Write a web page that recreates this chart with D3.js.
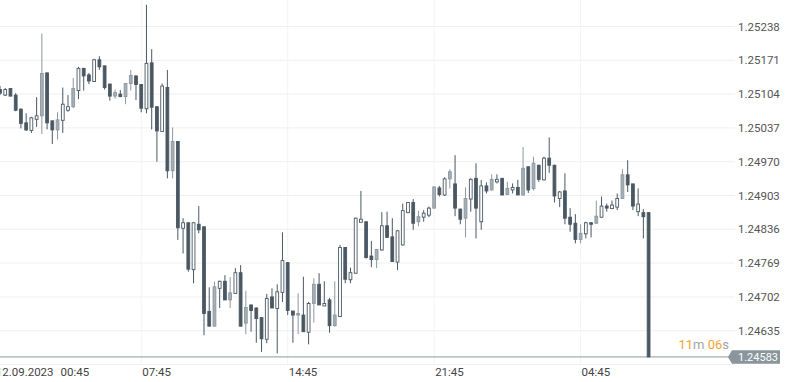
<!DOCTYPE html>
<html>
<head>
<meta charset="utf-8">
<script src="https://cdn.jsdelivr.net/npm/d3@7"></script>
<style>
  html, body { margin: 0; padding: 0; background: #fff; }
  svg { display: block; font-family: Roboto, "Open Sans", sans-serif; }
</style>
</head>
<body>
<div id="chart"></div>
<script>
// 15 minute candles, first visible candle
const startTime = "2023-09-12 01:00";

const open = [1.25113,1.25102,1.25115,1.25102,1.25074,1.25047,1.25032,1.25054,1.25061,1.25146,
  1.25051,1.25033,1.25052,1.25072,1.25079,1.25111,1.25155,1.25142,1.25129,1.25172,
  1.25160,1.25124,1.25100,1.25104,1.25099,1.25125,1.25140,1.25123,1.25075,1.25166,
  1.25079,1.25030,1.25117,1.24952,1.25010,1.24838,1.24849,1.24756,1.24846,1.24841,
  1.24673,1.24644,1.24719,1.24733,1.24696,1.24709,1.24750,1.24650,1.24686,1.24680,
  1.24661,1.24618,1.24702,1.24679,1.24711,1.24770,1.24674,1.24666,1.24666,1.24632,
  1.24689,1.24727,1.24684,1.24696,1.24645,1.24663,1.24800,1.24736,1.24749,1.24850,
  1.24851,1.24783,1.24776,1.24795,1.24843,1.24821,1.24771,1.24805,1.24869,1.24889,
  1.24851,1.24860,1.24864,1.24878,1.24918,1.24904,1.24936,1.24926,1.24876,1.24858,
  1.24896,1.24937,1.24851,1.24922,1.24914,1.24930,1.24937,1.24905,1.24914,1.24919,
  1.24904,1.24960,1.24917,1.24963,1.24934,1.24977,1.24963,1.24897,1.24912,1.24860,
  1.24848,1.24816,1.24827,1.24849,1.24848,1.24860,1.24882,1.24877,1.24880,1.24897,
  1.24944,1.24926,1.24871,1.24869,1.24869];

const high = [1.25120,1.25116,1.25116,1.25106,1.25076,1.25066,1.25059,1.25098,1.25224,1.25147,
  1.25051,1.25068,1.25117,1.25102,1.25136,1.25158,1.25156,1.25146,1.25174,1.25179,
  1.25160,1.25124,1.25113,1.25112,1.25126,1.25152,1.25141,1.25123,1.25281,1.25193,
  1.25079,1.25125,1.25152,1.25038,1.25010,1.24858,1.24849,1.24850,1.24882,1.24841,
  1.24721,1.24732,1.24734,1.24745,1.24741,1.24759,1.24765,1.24714,1.24687,1.24681,
  1.24661,1.24708,1.24719,1.24727,1.24830,1.24770,1.24674,1.24709,1.24742,1.24692,
  1.24739,1.24749,1.24733,1.24700,1.24733,1.24805,1.24801,1.24760,1.24859,1.24912,
  1.24851,1.24813,1.24797,1.24870,1.24871,1.24858,1.24834,1.24887,1.24890,1.24896,
  1.24873,1.24874,1.24881,1.24921,1.24922,1.24939,1.24955,1.24983,1.24877,1.24919,
  1.24937,1.24967,1.24934,1.24929,1.24945,1.24945,1.24938,1.24930,1.24927,1.24934,
  1.24999,1.24960,1.24980,1.24964,1.24980,1.25018,1.24964,1.24912,1.24947,1.24878,
  1.24866,1.24846,1.24851,1.24850,1.24893,1.24901,1.24887,1.24893,1.24907,1.24955,
  1.24973,1.24926,1.24917,1.24876,1.24870];

const low = [1.25102,1.25100,1.25100,1.25070,1.25036,1.25031,1.25027,1.25039,1.25025,1.25034,
  1.25005,1.25014,1.25027,1.25069,1.25076,1.25094,1.25111,1.25124,1.25128,1.25152,
  1.25113,1.25091,1.25095,1.25098,1.25084,1.25111,1.25092,1.25068,1.25066,1.25034,
  1.24970,1.25030,1.24937,1.24937,1.24815,1.24788,1.24752,1.24729,1.24828,1.24626,
  1.24644,1.24644,1.24680,1.24696,1.24680,1.24708,1.24644,1.24628,1.24633,1.24611,
  1.24593,1.24610,1.24680,1.24590,1.24692,1.24666,1.24611,1.24628,1.24633,1.24608,
  1.24651,1.24686,1.24684,1.24631,1.24643,1.24662,1.24729,1.24729,1.24748,1.24850,
  1.24778,1.24761,1.24759,1.24794,1.24820,1.24772,1.24755,1.24804,1.24868,1.24835,
  1.24842,1.24851,1.24860,1.24877,1.24901,1.24902,1.24917,1.24862,1.24846,1.24820,
  1.24871,1.24818,1.24835,1.24907,1.24913,1.24927,1.24904,1.24904,1.24907,1.24904,
  1.24903,1.24908,1.24913,1.24930,1.24933,1.24948,1.24889,1.24880,1.24846,1.24831,
  1.24808,1.24808,1.24818,1.24820,1.24847,1.24859,1.24871,1.24876,1.24874,1.24896,
  1.24910,1.24874,1.24862,1.24818,1.24583];

const close = [1.25106,1.25113,1.25100,1.25072,1.25046,1.25033,1.25057,1.25061,1.25145,1.25047,
  1.25033,1.25053,1.25084,1.25079,1.25115,1.25155,1.25140,1.25130,1.25172,1.25158,
  1.25117,1.25100,1.25107,1.25099,1.25125,1.25141,1.25123,1.25076,1.25165,1.25078,
  1.25031,1.25120,1.24952,1.25010,1.24839,1.24849,1.24757,1.24849,1.24835,1.24669,
  1.24644,1.24722,1.24733,1.24696,1.24710,1.24750,1.24644,1.24681,1.24675,1.24659,
  1.24619,1.24699,1.24680,1.24712,1.24774,1.24675,1.24666,1.24669,1.24633,1.24689,
  1.24727,1.24686,1.24689,1.24645,1.24666,1.24800,1.24737,1.24750,1.24858,1.24856,
  1.24780,1.24776,1.24796,1.24843,1.24820,1.24772,1.24833,1.24873,1.24889,1.24848,
  1.24861,1.24868,1.24878,1.24920,1.24905,1.24936,1.24950,1.24878,1.24856,1.24897,
  1.24935,1.24878,1.24922,1.24912,1.24935,1.24935,1.24904,1.24917,1.24919,1.24904,
  1.24957,1.24914,1.24967,1.24935,1.24977,1.24963,1.24902,1.24910,1.24858,1.24846,
  1.24816,1.24828,1.24849,1.24846,1.24862,1.24882,1.24878,1.24884,1.24897,1.24944,
  1.24924,1.24882,1.24886,1.24861,1.24583];

const priceTicks = [1.25238, 1.25171, 1.25104, 1.25037, 1.24970, 1.24903, 1.24836, 1.24769, 1.24702, 1.24635];
const timeTicks = ["2023-09-12 00:45", "2023-09-12 07:45", "2023-09-12 14:45", "2023-09-12 21:45", "2023-09-13 04:45"];
const countdown = { min: "11", sec: "06" };

const width = 786;
const height = 382;
const parseTime = d3.timeParse("%Y-%m-%d %H:%M");
const t0 = parseTime(startTime);

const candles = open.map((o, i) => ({
  time: d3.timeMinute.offset(t0, 15 * i),
  open: o, high: high[i], low: low[i], close: close[i],
  prev: i > 0 ? close[i - 1] : o
}));

const x = d3.scaleTime()
  .domain([candles[0].time, candles[candles.length - 1].time])
  .range([0, 648.6]);

const y = d3.scaleLinear()
  .domain([1.24635, 1.25238])
  .range([330.7, 26.5]);

const dark = "#4a5863";
const style = {
  down:   { fill: dark, stroke: dark, wick: dark },
  up:     { fill: "#a5afb5", stroke: "#8d989f", wick: "#8d989f" },
  hollow: { fill: "#fff", stroke: dark, wick: dark }
};
const kind = d => d.close < d.open ? "down" : (d.open >= d.prev ? "up" : "hollow");

const svg = d3.select("#chart").append("svg")
  .attr("width", width).attr("height", height);

// grid
const gridStep = priceTicks[0] - priceTicks[1];
const gridPrices = priceTicks.concat([priceTicks[priceTicks.length - 1] - gridStep]);
svg.append("g").selectAll("line").data(gridPrices).join("line")
  .attr("x1", 0).attr("x2", 735)
  .attr("y1", d => y(d)).attr("y2", d => y(d))
  .attr("stroke", "#f0f0f0").attr("stroke-width", 1);

const tickDates = timeTicks.map(parseTime);
svg.append("g").selectAll("line").data(tickDates).join("line")
  .attr("x1", d => x(d)).attr("x2", d => x(d))
  .attr("y1", 0).attr("y2", 364)
  .attr("stroke", "#f1f3f5").attr("stroke-width", 1);

// last price line
const last = candles[candles.length - 1];
const ly = y(last.close);
svg.append("line")
  .attr("x1", 0).attr("x2", 730).attr("y1", ly).attr("y2", ly)
  .attr("stroke", "#8f9aa1").attr("stroke-width", 1);

// candles
const c = svg.append("g").selectAll("g").data(candles).join("g");
c.append("line")
  .attr("x1", d => x(d.time)).attr("x2", d => x(d.time))
  .attr("y1", d => y(d.high)).attr("y2", d => y(d.low))
  .attr("stroke", d => style[kind(d)].wick).attr("stroke-width", 1);
c.append("rect")
  .attr("x", d => x(d.time) - 1.4)
  .attr("width", 2.8)
  .attr("y", d => y(Math.max(d.open, d.close)))
  .attr("height", d => Math.max(0.8, Math.abs(y(d.open) - y(d.close))))
  .attr("fill", d => style[kind(d)].fill)
  .attr("stroke", d => style[kind(d)].stroke)
  .attr("stroke-width", 0.9);

// price axis labels
svg.append("g").selectAll("text").data(priceTicks).join("text")
  .attr("x", 738).attr("y", d => y(d)).attr("dy", "0.35em")
  .attr("font-size", "11.5px").attr("fill", "#555")
  .text(d => d.toFixed(5));

// time axis labels
const fmtTime = d3.timeFormat("%H:%M");
const fmtDate = d3.timeFormat("%d.%m.%Y");
const tl = svg.append("g").selectAll("text").data(tickDates).join("text")
  .attr("x", d => x(d) + 1).attr("y", 376)
  .attr("font-size", "11.5px").attr("fill", "#444");
tl.filter((d, i) => i === 0).text(d => fmtDate(d))
  .append("tspan").attr("dx", 7).text(d => fmtTime(d));
tl.filter((d, i) => i > 0).text(d => fmtTime(d));

// current price tag
svg.append("path")
  .attr("d", `M728,${ly} L732,${ly - 6.8} L780,${ly - 6.8} L780,${ly + 6.8} L732,${ly + 6.8} Z`)
  .attr("fill", "#8a959c");
svg.append("text")
  .attr("x", 738).attr("y", ly).attr("dy", "0.36em")
  .attr("font-size", "11px").attr("fill", "#fff")
  .text(last.close.toFixed(5));

// countdown to candle close
const cd = svg.append("text")
  .attr("x", 729).attr("y", 349).attr("text-anchor", "end")
  .attr("font-size", "13px");
cd.append("tspan").attr("fill", "#f5a32e").text(countdown.min);
cd.append("tspan").attr("fill", "#a3a3a3").text("m ");
cd.append("tspan").attr("fill", "#f5a32e").text(countdown.sec);
cd.append("tspan").attr("fill", "#a3a3a3").text("s");
</script>
</body>
</html>
